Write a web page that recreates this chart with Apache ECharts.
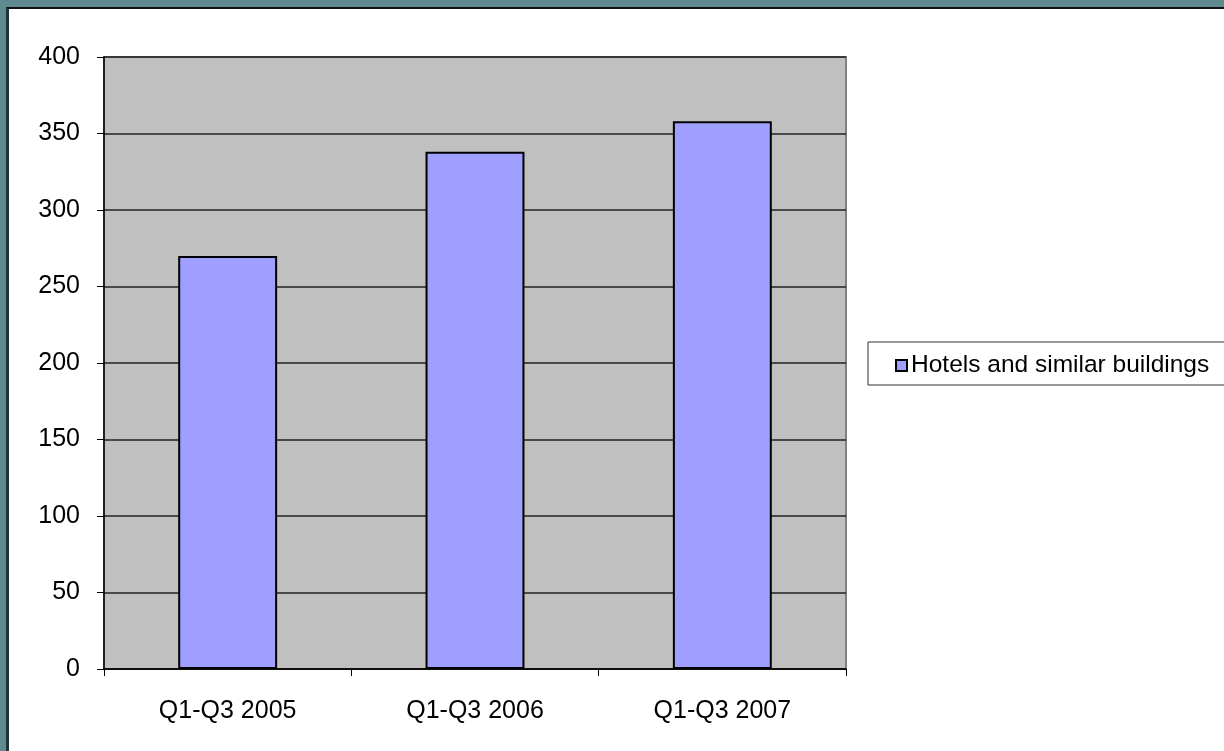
<!DOCTYPE html>
<html>
<head>
<meta charset="utf-8">
<script src="https://cdn.jsdelivr.net/npm/echarts@6/dist/echarts.min.js"></script>
<style>
  html, body { margin: 0; padding: 0; background: #5f8a8f; }
  /* white sheet with the dark inner edge of the frame */
  #sheet {
    position: absolute; left: 6px; top: 7px; width: 1230px; height: 760px;
    background: #fff; border-left: 3px solid #1d3539; border-top: 2px solid #111;
  }
  #main { position: absolute; left: 0; top: 0; width: 1224px; height: 751px; }
</style>
</head>
<body>
<div id="sheet"></div>
<div id="main"></div>
<script>
// chart data
var categories = ["Q1-Q3 2005", "Q1-Q3 2006", "Q1-Q3 2007"];
var seriesName = "Hotels and similar buildings";
var hotelValues = [270, 338, 358];
var yMin = 0, yMax = 400, yStep = 50;

var font = "Liberation Sans, Arial, sans-serif";
var chart = echarts.init(document.getElementById("main"));
chart.setOption({
  animation: false,
  backgroundColor: "transparent",
  grid: {
    left: 104, right: 378, top: 57, bottom: 82,
    show: true, backgroundColor: "#c0c0c0",
    borderColor: "#808080", borderWidth: 2
  },
  legend: {
    data: [seriesName],
    left: 868, top: 342,
    padding: [11, 40, 7, 27],
    borderColor: "#333", borderWidth: 1,
    backgroundColor: "#fff",
    itemWidth: 11, itemHeight: 11,
    icon: "rect",
    itemStyle: { borderColor: "#000", borderWidth: 2 },
    textStyle: { fontFamily: font, fontSize: 24.5, color: "#000", padding: [0, 0, 0, -1] }
  },
  xAxis: {
    type: "category",
    data: categories,
    axisLine: { lineStyle: { color: "#000", width: 1.5 } },
    axisTick: { show: true, length: 7, lineStyle: { color: "#000" } },
    axisLabel: { fontFamily: font, fontSize: 25, color: "#000", margin: 30 }
  },
  yAxis: {
    type: "value",
    min: yMin, max: yMax, interval: yStep,
    axisLine: { show: true, lineStyle: { color: "#000", width: 1.5 } },
    axisTick: { show: true, length: 7, lineStyle: { color: "#000" } },
    splitLine: { lineStyle: { color: "#222", width: 1.5 } },
    axisLabel: { fontFamily: font, fontSize: 25, color: "#000", margin: 24, padding: [6, 0, 0, 0] }
  },
  series: [{
    name: seriesName,
    type: "bar",
    data: hotelValues,
    barWidth: "40%",
    itemStyle: { color: "#9f9fff", borderColor: "#000", borderWidth: 2 }
  }]
});
</script>
</body>
</html>
